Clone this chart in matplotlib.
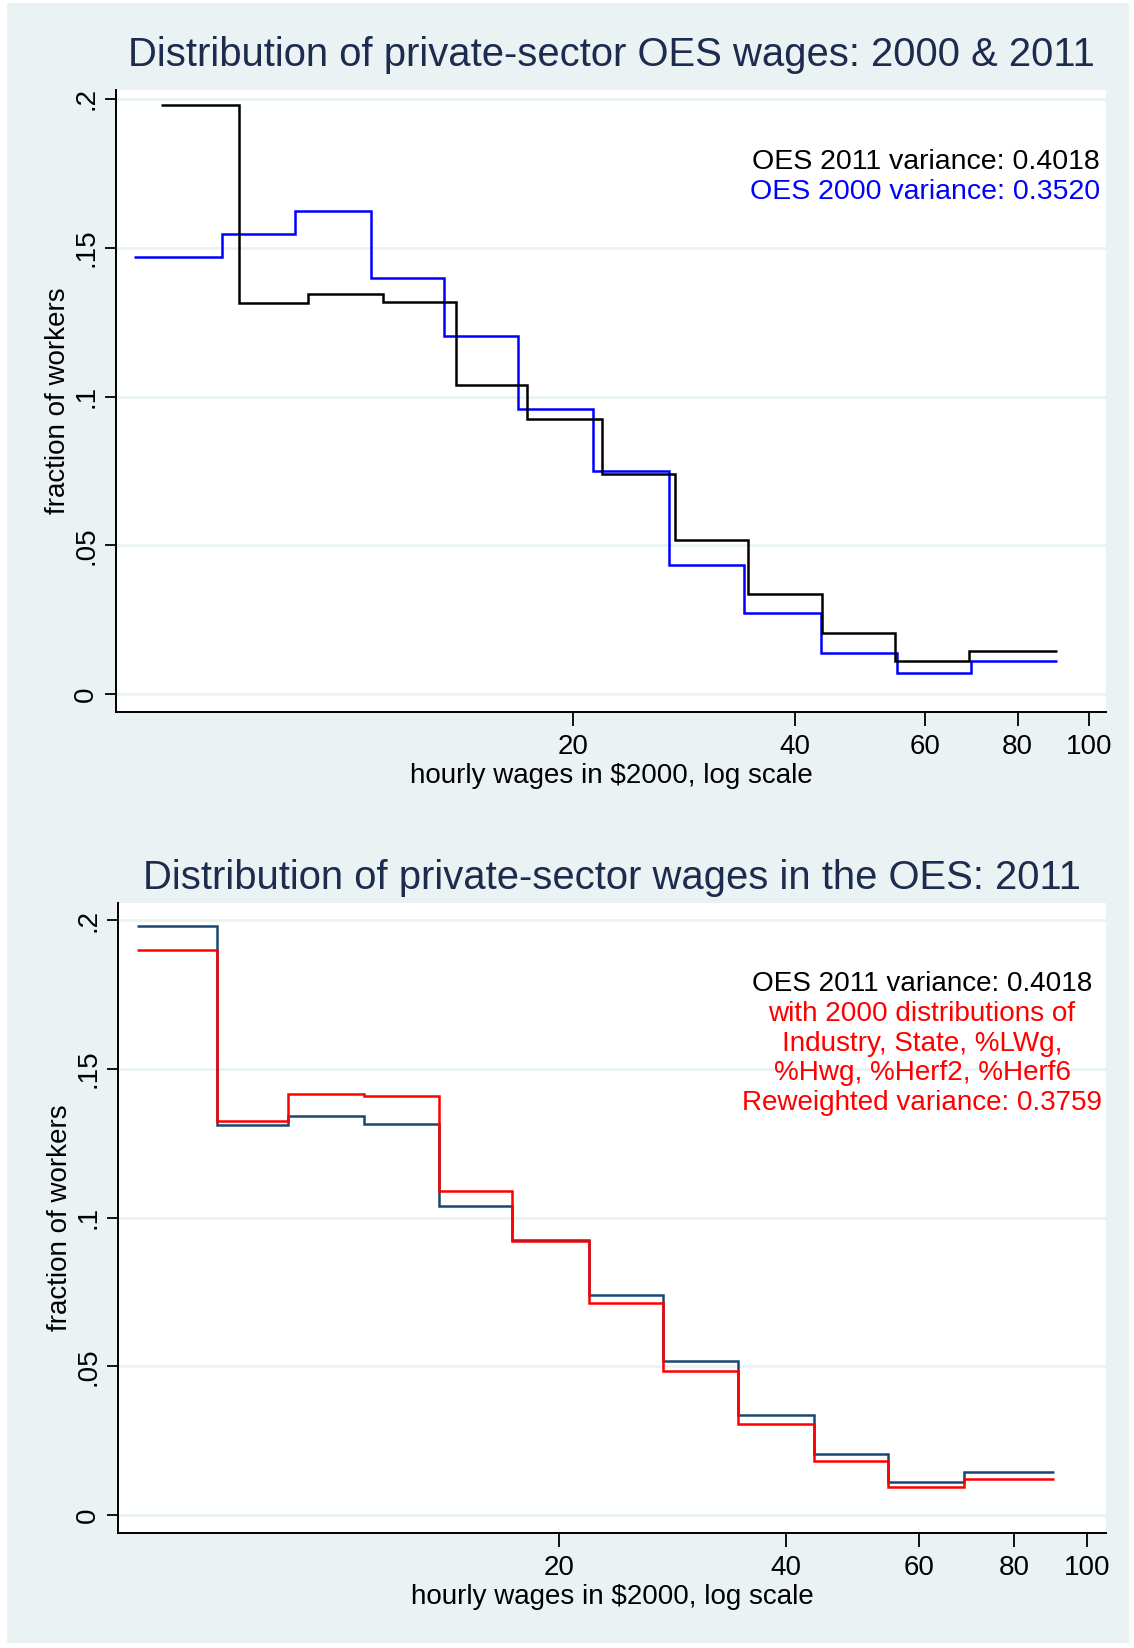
import matplotlib
matplotlib.use("Agg")
import matplotlib.pyplot as plt
from matplotlib.patches import Rectangle
from matplotlib.ticker import FixedLocator, NullLocator

plt.rcParams['font.family'] = ['Liberation Sans', 'DejaVu Sans']

# step positions (hourly wage, $2000) and fraction of workers per interval
edges_2011 = [5.53, 7.05, 8.76, 11.05, 13.9, 17.34, 21.92, 27.5, 34.5, 43.5, 54.56, 68.7, 90.45]
frac_2011 = [0.198, 0.1313, 0.1343, 0.1316, 0.1040, 0.0925, 0.0741, 0.0519, 0.0337, 0.0205, 0.0112, 0.0144]

edges_2000 = [5.09, 6.69, 8.40, 10.66, 13.36, 16.83, 21.29, 26.98, 34.11, 43.35, 54.96, 69.21, 90.44]
frac_2000 = [0.1469, 0.1545, 0.1622, 0.1399, 0.1203, 0.0957, 0.0749, 0.0434, 0.0272, 0.0139, 0.0072, 0.0110]

frac_reweighted = [0.1899, 0.1325, 0.1415, 0.1410, 0.1089, 0.0923, 0.0713, 0.0483, 0.0308, 0.0182, 0.0096, 0.0123]

xticks = [20, 40, 60, 80, 100]
yticks = [0, 0.05, 0.1, 0.15, 0.2]
ytick_labels = ["0", ".05", ".1", ".15", ".2"]

note_top = ['OES 2011 variance: 0.4018', 'OES 2000 variance: 0.3520']
note_bottom = ['OES 2011 variance: 0.4018', 'with 2000 distributions of',
               'Industry, State, %LWg,', '%Hwg, %Herf2, %Herf6',
               'Reweighted variance: 0.3759']

BG = '#eaf2f3'
TITLE_COL = '#1c2b4e'
NAVY = '#1a476f'

W, H = 1134, 1648
fig = plt.figure(figsize=(W / 100, H / 100), dpi=100, facecolor='white')
fig.patches.append(Rectangle((7 / W, 1 - 1643 / H), 1122 / W, 1640 / H,
                             transform=fig.transFigure, facecolor=BG, edgecolor='none', zorder=-5))


def px_box(l, t, r, b):
    return [l / W, 1 - b / H, (r - l) / W, (b - t) / H]


def ftext(x, y, s, **kw):
    # place text by pixel position measured from top-left
    return fig.text(x / W, 1 - y / H, s, **kw)


def style_axes(ax, xlim, ylim):
    ax.set_facecolor('white')
    ax.set_xscale('log')
    ax.set_xlim(*xlim)
    ax.set_ylim(*ylim)
    ax.xaxis.set_major_locator(FixedLocator(xticks))
    ax.xaxis.set_minor_locator(NullLocator())
    ax.set_xticklabels([str(t) for t in xticks])
    ax.set_yticks(yticks)
    ax.set_yticklabels(ytick_labels, rotation=90, va='center')
    for s in ['top', 'right']:
        ax.spines[s].set_visible(False)
    for s in ['left', 'bottom']:
        ax.spines[s].set_linewidth(1.4)
    ax.tick_params(axis='both', direction='out', length=8, width=1.3, labelsize=20, pad=4)
    ax.tick_params(axis='x', length=10, pad=6)
    ax.grid(axis='y', color=BG, linewidth=2)
    ax.set_axisbelow(True)
    ax.set_xlabel('hourly wages in $2000, log scale', fontsize=20, labelpad=2)
    ax.set_ylabel('fraction of workers', fontsize=20, labelpad=2)


# top panel
ax1 = fig.add_axes(px_box(116, 90, 1106, 712))
style_axes(ax1, (4.81, 105.4), (-0.006, 0.203))
ax1.stairs(frac_2000, edges_2000, baseline=None, color='#0000ff', linewidth=1.8)
ax1.stairs(frac_2011, edges_2011, baseline=None, color='black', linewidth=1.8)
ftext(611, 55, 'Distribution of private-sector OES wages: 2000 & 2011',
      fontsize=28.8, color=TITLE_COL, ha='center', va='center')
for i, (s, c) in enumerate(zip(note_top, ['black', '#0000ff'])):
    ftext(1100, 162 + 30 * i, s, ha='right', va='center', fontsize=20.5, color=c)

# bottom panel
ax2 = fig.add_axes(px_box(118, 903, 1106, 1533))
style_axes(ax2, (5.22, 105.95), (-0.006, 0.2058))
ax2.stairs(frac_2011, edges_2011, baseline=None, color=NAVY, linewidth=1.8)
ax2.stairs(frac_reweighted, edges_2011, baseline=None, color='#ff0000', linewidth=1.8)
ftext(612, 878, 'Distribution of private-sector wages in the OES: 2011',
      fontsize=28.8, color=TITLE_COL, ha='center', va='center')
for i, s in enumerate(note_bottom):
    ftext(922, 984 + 29.8 * i, s, ha='center', va='center', fontsize=20.1,
          color='black' if i == 0 else '#ff0000')

fig.savefig('out.png', dpi=100, facecolor='white')
